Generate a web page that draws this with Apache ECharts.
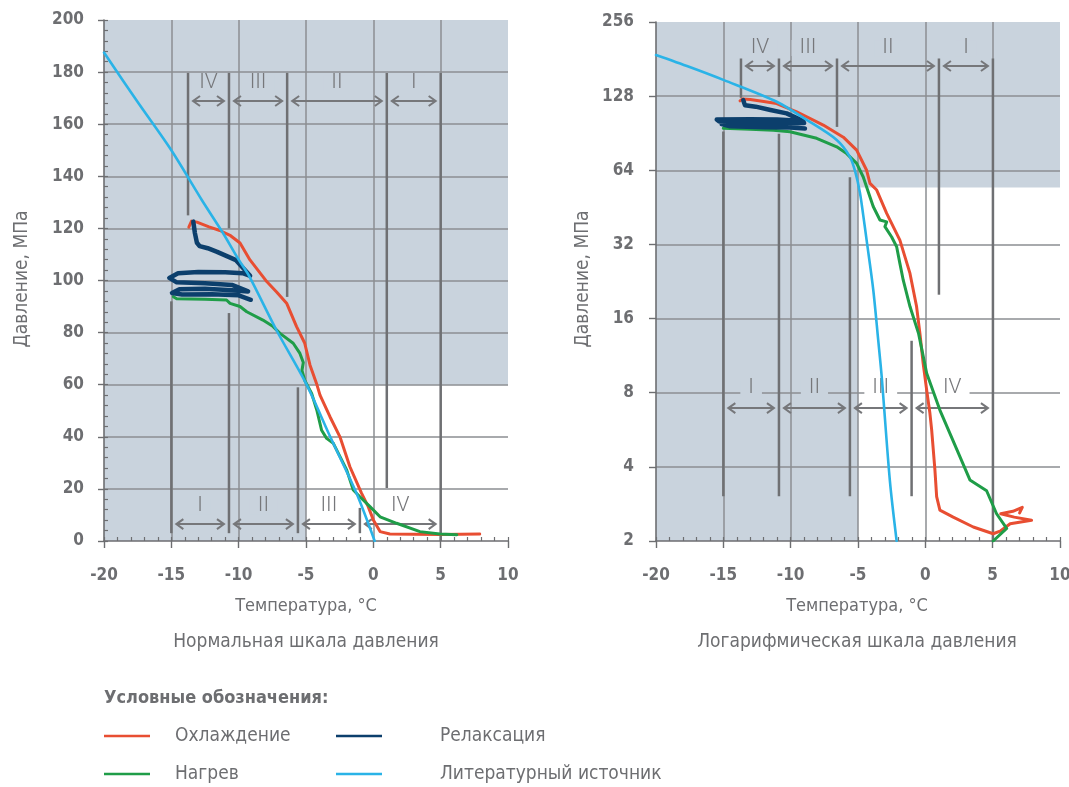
<!DOCTYPE html>
<html>
<head>
<meta charset="utf-8">
<script src="https://cdn.jsdelivr.net/npm/echarts@6/dist/echarts.min.js"></script>
<style>
  html, body { margin: 0; padding: 0; background: #fff; }
  #chart { width: 1069px; height: 787px; }
</style>
</head>
<body>
<div id="chart"></div>
<script>
// ---------- axis ticks ----------
const tempTicks = [-20, -15, -10, -5, 0, 5, 10];
const pressureTicksLin = [0, 20, 40, 60, 80, 100, 120, 140, 160, 180, 200];
const pressureTicksLog = [2, 4, 8, 16, 32, 64, 128, 256];

// ---------- normal pressure scale: [temperature °C, pressure MPa] ----------
const coolingLin = [[-13.7,120.5],[-13.5,122.8],[-13.1,122.4],[-12.2,120.6],[-11.4,119.2],[-10.6,117.2],[-9.9,114.4],[-9.16,107.9],[-7.9,99.5],[-7.2,95.7],[-6.44,91.3],[-5.7,82.3],[-5.1,76],[-4.7,67.5],[-4.22,60.5],[-3.96,56],[-3.22,47.7],[-2.48,40],[-1.74,28.5],[-0.87,18.3],[-0.38,13.2],[0,8.1],[0.5,3.6],[1.23,2.7],[3,2.6],[5,2.5],[6.5,2.6],[7.9,2.7]];
const heatingLin = [[-14.85,93.8],[-14.6,93.0],[-12.5,92.8],[-10.9,92.5],[-10.64,91.2],[-9.9,90.0],[-9.4,88.0],[-8.2,84.8],[-7.44,82.3],[-6.93,79.7],[-5.95,75.9],[-5.45,72.0],[-5.2,68.5],[-5.3,65.5],[-5.08,61.5],[-4.58,56.6],[-4.2,50.3],[-3.84,42.5],[-3.47,39.4],[-2.97,37.5],[-1.98,27.3],[-1.49,19.6],[-1.0,17.0],[-0.25,13.2],[0.5,9.3],[1.73,6.8],[3.46,3.6],[4.94,2.7],[6.2,2.4]];
const relaxLin = [[-13.37,122.6],[-13.25,118.2],[-13.1,114.5],[-12.9,113.2],[-12.3,112.4],[-11.6,111.0],[-10.2,107.8],[-9.15,101.8],[-9.7,102.8],[-11,103.2],[-13,103.3],[-14.5,102.8],[-15.15,101],[-14.6,99.3],[-12.5,98.9],[-10.5,98.3],[-9.3,95.8],[-10.5,96.3],[-12.5,96.8],[-14.4,96.6],[-14.95,95.2],[-14.2,94.6],[-12,94.7],[-10,94.3],[-9.1,92.6]];
const literatureLin = [[-20,187.5],[-17.5,168.5],[-15,150],[-12.75,131],[-11.2,118.5],[-10,108],[-9.2,101.5],[-7.2,81],[-5,60.5],[-3.2,40],[-1.25,18.3],[0.1,0]];

// ---------- logarithmic pressure scale ----------
const coolingLog = [[-13.76,122.5],[-13.6,124.5],[-13.0,124],[-12.0,121.8],[-11.04,119.4],[-9.55,110.6],[-7.58,97.7],[-6.09,87.2],[-5.1,77.3],[-4.36,64],[-4.11,56.6],[-3.61,53.2],[-2.87,42.8],[-1.89,33.3],[-1.14,24.4],[-0.65,17.9],[-0.4,13.9],[-0.16,10.5],[0.1,8.2],[0.34,6.6],[0.47,5.65],[0.71,3.9],[0.84,3.03],[1.08,2.67],[2.07,2.5],[3.56,2.28],[5.04,2.14],[5.6,2.2],[6.3,2.35],[7.89,2.43],[6.6,2.5],[5.6,2.58],[6.5,2.64],[7.2,2.74],[7.0,2.6]];
const heatingLog = [[-15.0,94.7],[-13.0,94.0],[-11.29,93.0],[-10.05,91.8],[-8.07,86.3],[-6.58,79.7],[-5.84,74.8],[-5.1,68.3],[-4.61,60.1],[-4.11,49.9],[-3.87,45.6],[-3.37,40.2],[-2.87,39.5],[-3.0,37.8],[-2.5,34.3],[-2.13,31.3],[-1.89,26.8],[-1.64,22.9],[-1.14,17.9],[-0.5,13.9],[0.1,9.6],[1.08,6.8],[3.31,3.54],[4.55,3.2],[5.29,2.58],[6.04,2.25],[5.04,2.0]];
const relaxLog = [[-13.52,123.4],[-13.45,120],[-13.39,117.6],[-12.6,116],[-11.5,112.5],[-10.3,109],[-9.06,101.5],[-11,102.8],[-13,103.1],[-15.49,103],[-15.3,101],[-13,100],[-10.5,100],[-9.0,99.5],[-11,98.8],[-13,98.8],[-15.12,98.5],[-14.5,96.5],[-12,95.8],[-10,95.5],[-8.94,94.5]];
const literatureLog = [[-20,188],[-17.5,168],[-15,149],[-11.04,121.5],[-8.81,102.5],[-6.58,85],[-5.6,72.6],[-5.2,63],[-4.86,52],[-4.61,42],[-4.36,33.3],[-3.87,21],[-3.5,13.1],[-3.24,9.3],[-2.63,3.5],[-2.13,2]];

// ---------- shaded region split: [temperature, pressure] ----------
const shadeSplitLin = [-5, 60];
const shadeSplitLog = [-5, 54.5];

// ---------- phase boundaries: [temperature, pressure top, pressure bottom] ----------
const boundsLin = [[-13.76,179.7,125],[-10.72,179.7,120],[-6.4,179.7,93.7],[1.0,179.7,20.3],[5.0,179.7,0],[-15.0,92,3],[-10.72,87.5,3],[-5.6,59,3],[-1.0,12.7,3]];
const boundsLog = [[-13.69,182,126],[-10.87,182,127],[-6.56,182,96],[1.01,182,20],[5.02,182,2],[-15.0,92,3.04],[-10.87,90,3.04],[-5.6,60,3.04],[-1.02,13,3.04]];

// ---------- phase zones: [label, from °C, to °C, label pressure, arrow pressure] ----------
const zonesLin = [['IV',-13.76,-10.72,175.8,168.9],['III',-10.72,-6.4,175.8,168.9],['II',-6.4,1.0,175.8,168.9],['I',1.0,5.0,175.8,168.9],
                  ['I',-15.0,-10.72,13.4,6.5],['II',-10.72,-5.6,13.4,6.5],['III',-5.6,-1.0,13.4,6.5],['IV',-1.0,5.0,13.4,6.5]];
const zonesLog = [['IV',-13.69,-10.87,200.6,169.7],['III',-10.87,-6.56,200.6,169.7],['II',-6.56,1.01,200.6,169.7],['I',1.01,5.02,200.6,169.7],
                  ['I',-15.0,-10.87,8.36,6.93],['II',-10.87,-5.6,8.36,6.93],['III',-5.6,-1.02,8.36,6.93],['IV',-1.02,5.02,8.36,6.93]];

const seriesNames = ['Охлаждение', 'Нагрев', 'Релаксация', 'Литературный источник'];

// ---------- styling ----------
const C = {
  shade: '#c9d3dd', grid: '#8b8e92', phase: '#6f7073', arrow: '#76777a', text: '#6d6e71',
  red: '#e84e32', green: '#1f9d48', navy: '#0c3f6c', sky: '#2ab3e7'
};
const NARROW = "'Liberation Sans Narrow', 'DejaVu Sans Condensed', 'Roboto', sans-serif";

function shadeRender(params, api) {
  const p0 = api.coord([api.value(0), api.value(3)]);
  const p1 = api.coord([api.value(1), api.value(2)]);
  return { type: 'rect', shape: { x: p0[0], y: p0[1], width: p1[0] - p0[0], height: p1[1] - p0[1] },
           style: { fill: C.shade } };
}
function shadeData(split, tTicks, pTicks) {
  const tMin = tTicks[0], tMax = tTicks[tTicks.length - 1];
  const pMin = pTicks[0], pMax = pTicks[pTicks.length - 1];
  return [[tMin, split[0], pMin, pMax], [split[0], tMax, split[1], pMax]];
}
function boundRender(params, api) {
  const a = api.coord([api.value(0), api.value(1)]);
  const b = api.coord([api.value(0), api.value(2)]);
  return { type: 'line', shape: { x1: a[0], y1: a[1], x2: b[0], y2: b[1] },
           style: { stroke: C.phase, lineWidth: 2.5 } };
}
function zoneRender(zones, split) {
  return function (params, api) {
    const z = zones[params.dataIndex];
    const xl = api.value(0), xr = api.value(1), pl = api.value(2), pa = api.value(3);
    const a = api.coord([xl, pa]), b = api.coord([xr, pa]), t = api.coord([(xl + xr) / 2, pl]);
    const gap = 5, hw = 7, hh = 5;
    const x1 = a[0] + gap, x2 = b[0] - gap, y = a[1];
    const white = (xl + xr) / 2 > split[0] && pl < split[1];
    const st = { stroke: C.arrow, lineWidth: 2, fill: null };
    return { type: 'group', children: [
      { type: 'line', shape: { x1: x1, y1: y, x2: x2, y2: y }, style: st },
      { type: 'polyline', shape: { points: [[x1 + hw, y - hh], [x1, y], [x1 + hw, y + hh]] }, style: st },
      { type: 'polyline', shape: { points: [[x2 - hw, y - hh], [x2, y], [x2 - hw, y + hh]] }, style: st },
      { type: 'text', x: t[0], y: t[1], style: {
          text: z[0], align: 'center', verticalAlign: 'middle', lineHeight: 16,
          font: "300 21px 'Roboto', sans-serif", fill: C.arrow,
          backgroundColor: white ? '#ffffff' : C.shade, padding: [0, 8] } }
    ]};
  };
}
function curve(name, data, color, width, xi, yi, z, smooth) {
  return { type: 'line', name: name, data: data, xAxisIndex: xi, yAxisIndex: yi,
           symbol: 'none', showSymbol: false, smooth: smooth || false, z: z, silent: true,
           lineStyle: { color: color, width: width, join: 'round', cap: 'round' } };
}
function panelSeries(xi, yi, d, split, tTicks, pTicks, bounds, zones) {
  return [
    { type: 'custom', xAxisIndex: xi, yAxisIndex: yi, z: -1, silent: true,
      data: shadeData(split, tTicks, pTicks), renderItem: shadeRender },
    { type: 'custom', xAxisIndex: xi, yAxisIndex: yi, z: 1, silent: true,
      data: bounds, renderItem: boundRender },
    { type: 'custom', xAxisIndex: xi, yAxisIndex: yi, z: 1, silent: true,
      data: zones.map(r => [r[1], r[2], r[3], r[4]]), renderItem: zoneRender(zones, split) },
    curve(seriesNames[0], d[0], C.red, 3, xi, yi, 3),
    curve(seriesNames[1], d[1], C.green, 3, xi, yi, 4),
    curve(seriesNames[2], d[2], C.navy, 4.5, xi, yi, 5),
    curve(seriesNames[3], d[3], C.sky, 2.6, xi, yi, 6, 0.3)
  ];
}

const tickFont = { color: C.text, fontSize: 17, fontWeight: 'bold', fontFamily: NARROW };
function xMajor(gi) {
  return { type: 'value', gridIndex: gi, position: 'bottom', min: tempTicks[0], max: tempTicks[tempTicks.length - 1],
    interval: tempTicks[1] - tempTicks[0],
    axisLine: { show: true, onZero: false, lineStyle: { color: C.text, width: 1.6 } },
    axisTick: { show: true, inside: false, length: 7, lineStyle: { color: C.text, width: 1.4 } },
    axisLabel: Object.assign({ margin: 26 }, tickFont),
    splitLine: { show: true, showMinLine: false, showMaxLine: false, lineStyle: { color: C.grid, width: 1.5 } } };
}
function xMinor(gi) {
  return { type: 'value', gridIndex: gi, position: 'bottom', min: tempTicks[0], max: tempTicks[tempTicks.length - 1], interval: 1,
    axisLine: { show: false, onZero: false }, axisLabel: { show: false }, splitLine: { show: false },
    axisTick: { show: true, inside: true, length: 4, lineStyle: { color: C.text, width: 1.2 } } };
}

const option = {
  animation: false,
  backgroundColor: '#ffffff',
  grid: [
    { left: 104, top: 20, width: 404, height: 521, containLabel: false, outerBoundsMode: 'none' },
    { left: 656, top: 22, width: 404, height: 519, containLabel: false, outerBoundsMode: 'none' }
  ],
  xAxis: [xMajor(0), xMinor(0), xMajor(1), xMinor(1)],
  yAxis: [
    { type: 'value', gridIndex: 0, position: 'left', min: pressureTicksLin[0], max: pressureTicksLin[pressureTicksLin.length - 1],
      interval: pressureTicksLin[1] - pressureTicksLin[0],
      axisLine: { show: true, onZero: false, lineStyle: { color: C.text, width: 1.6 } },
      axisTick: { show: true, inside: false, length: 6, lineStyle: { color: C.text, width: 1.4 } },
      axisLabel: Object.assign({ margin: 20 }, tickFont),
      splitLine: { show: true, showMinLine: false, showMaxLine: false, lineStyle: { color: C.grid, width: 1.5 } } },
    { type: 'value', gridIndex: 0, position: 'left', min: pressureTicksLin[0], max: pressureTicksLin[pressureTicksLin.length - 1], interval: 4,
      axisLine: { show: false, onZero: false }, axisLabel: { show: false }, splitLine: { show: false },
      axisTick: { show: true, inside: true, length: 4, lineStyle: { color: C.text, width: 1.2 } } },
    { type: 'log', logBase: 2, gridIndex: 1, position: 'left', min: pressureTicksLog[0], max: pressureTicksLog[pressureTicksLog.length - 1],
      interval: 1,
      axisLine: { show: true, onZero: false, lineStyle: { color: C.text, width: 1.6 } },
      axisTick: { show: true, inside: false, length: 7, lineStyle: { color: C.text, width: 1.4 } },
      axisLabel: Object.assign({ margin: 22, formatter: v => String(Math.round(v)) }, tickFont),
      splitLine: { show: true, showMinLine: false, showMaxLine: false, lineStyle: { color: C.grid, width: 1.5 } } }
  ],
  series: [].concat(
    panelSeries(0, 0, [coolingLin, heatingLin, relaxLin, literatureLin], shadeSplitLin, tempTicks, pressureTicksLin, boundsLin, zonesLin),
    panelSeries(2, 2, [coolingLog, heatingLog, relaxLog, literatureLog], shadeSplitLog, tempTicks, pressureTicksLog, boundsLog, zonesLog)
  ),
  graphic: { elements: [] }
};

// axis titles, panel captions and legend
const g = option.graphic.elements;
const labelFont = "19px " + NARROW;
function txt(text, x, y, font, align, rot) {
  g.push({ type: 'text', x: x, y: y, rotation: rot || 0, silent: true,
    style: { text: text, x: 0, y: 0, font: font, fill: C.text, align: align || 'center', verticalAlign: 'middle' } });
}
txt('Давление, МПа', 22, 279, labelFont, 'center', Math.PI / 2);
txt('Давление, МПа', 583, 279, labelFont, 'center', Math.PI / 2);
txt('Температура, °C', 306, 606, "18px " + NARROW);
txt('Температура, °C', 857, 606, "18px " + NARROW);
txt('Нормальная шкала давления', 306, 642, labelFont);
txt('Логарифмическая шкала давления', 857, 642, labelFont);
txt('Условные обозначения:', 104, 698, "bold 18px " + NARROW, 'left');

const legendColors = [C.red, C.green, C.navy, C.sky];
const legendPos = [[104, 736], [104, 774], [336, 736], [336, 774]];
seriesNames.forEach((name, i) => {
  const p = legendPos[i];
  g.push({ type: 'line', silent: true, shape: { x1: p[0], y1: p[1], x2: p[0] + 46, y2: p[1] },
           style: { stroke: legendColors[i], lineWidth: 2.6 } });
  txt(name, p[0] + (i < 2 ? 71 : 104), p[1], labelFont, 'left');
});

const chart = echarts.init(document.getElementById('chart'), null, { renderer: 'canvas' });
chart.setOption(option);
</script>
</body>
</html>
